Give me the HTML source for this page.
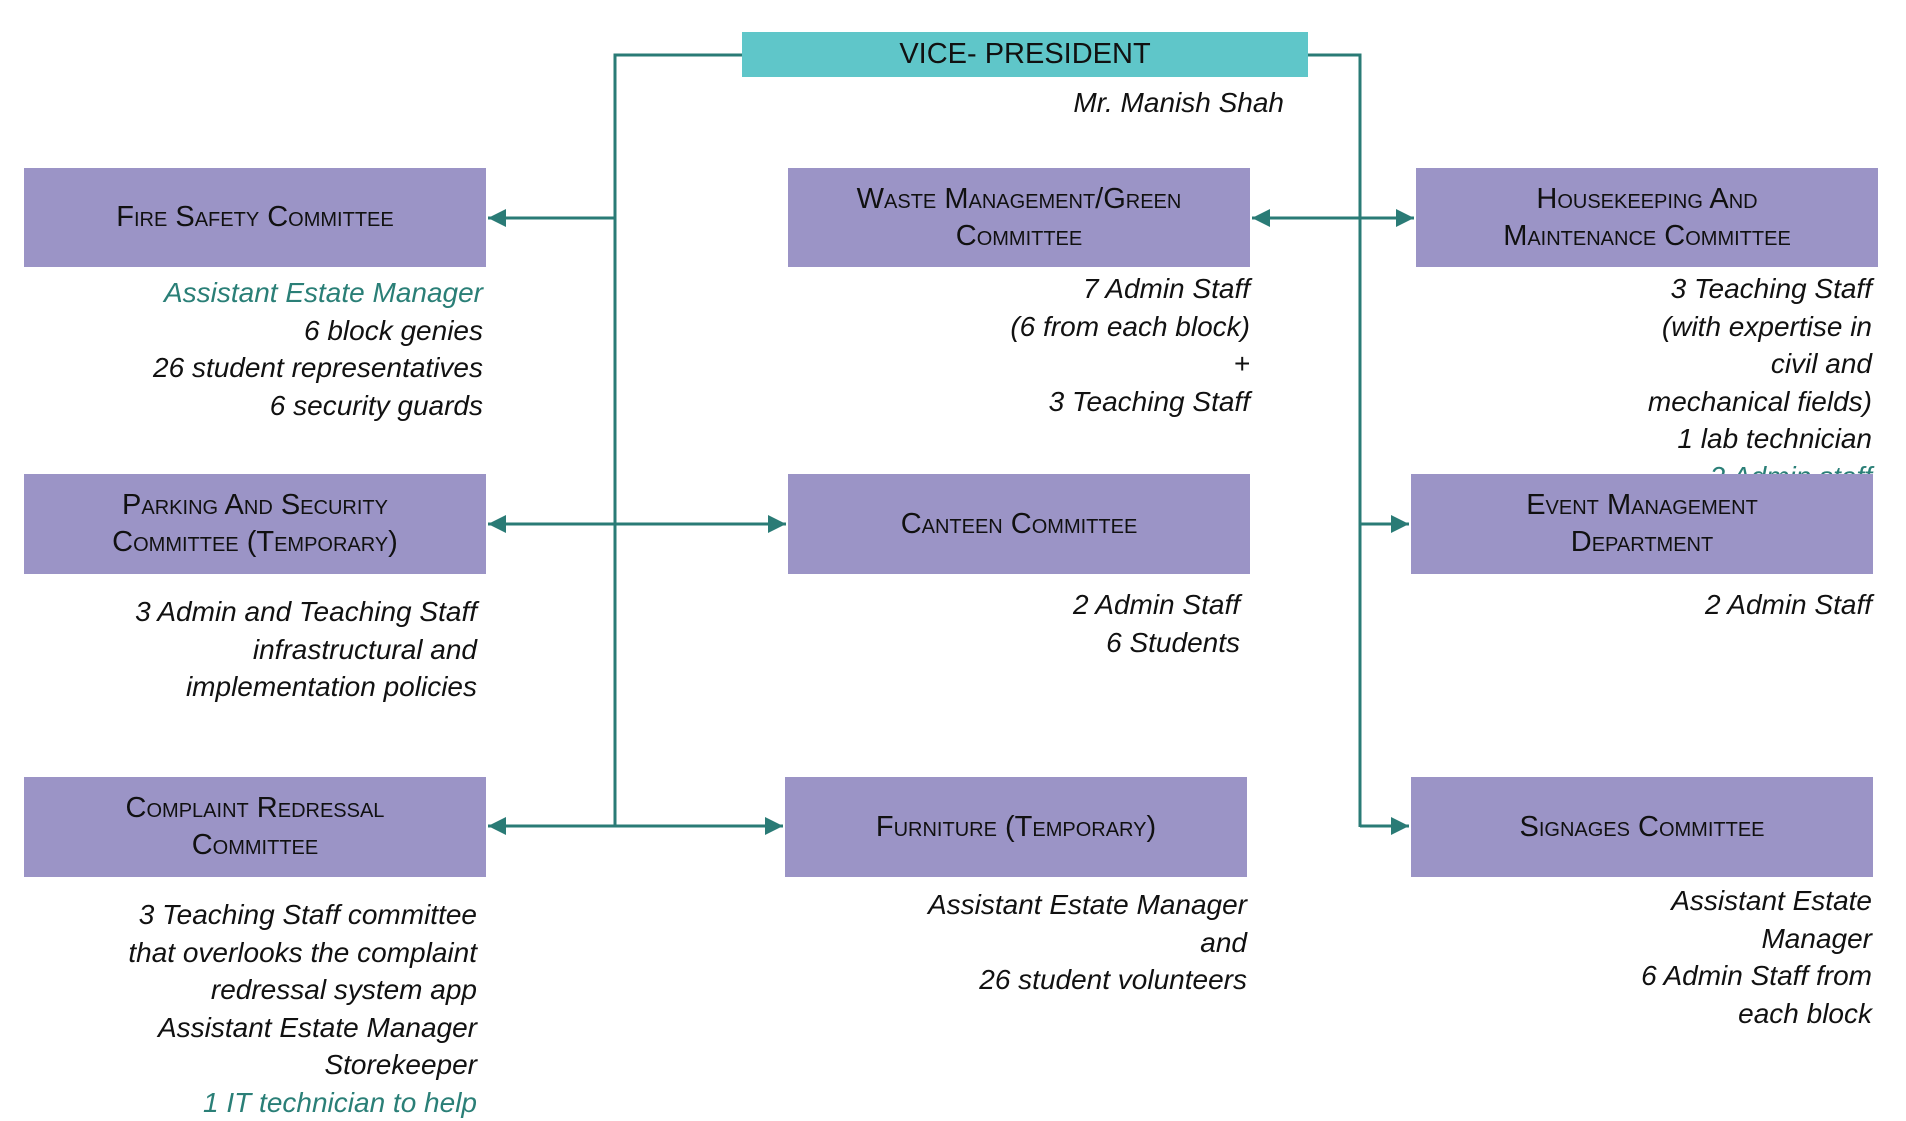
<!DOCTYPE html>
<html><head><meta charset="utf-8"><style>
body{margin:0;width:1906px;height:1118px;background:#fff;position:relative;overflow:hidden;font-family:"Liberation Sans",sans-serif}
.box{position:absolute;background:#9b94c6;color:#111;display:flex;align-items:center;justify-content:center;text-align:center;font-variant:small-caps;font-size:29px;line-height:37px;z-index:2}
.d{position:absolute;text-align:right;font-style:italic;font-size:28px;line-height:37.5px;color:#111;white-space:nowrap;z-index:1}
.t{color:#2a7f77}
svg{position:absolute;left:0;top:0;z-index:3}
</style></head><body>
<div class="box" style="left:742px;top:32px;width:566px;height:45px;background:#5fc6c9;font-variant:normal;font-size:29px">VICE- PRESIDENT</div>
<div class="d" style="left:900px;top:84px;width:384px">Mr. Manish Shah</div>

<div class="box" style="left:24px;top:168px;width:462px;height:99px">Fire Safety Committee</div>
<div class="box" style="left:788px;top:168px;width:462px;height:99px">Waste Management/Green<br>Committee</div>
<div class="box" style="left:1416px;top:168px;width:462px;height:99px">Housekeeping And<br>Maintenance Committee</div>
<div class="box" style="left:24px;top:474px;width:462px;height:100px">Parking And Security<br>Committee (Temporary)</div>
<div class="box" style="left:788px;top:474px;width:462px;height:100px">Canteen Committee</div>
<div class="box" style="left:1411px;top:474px;width:462px;height:100px">Event Management<br>Department</div>
<div class="box" style="left:24px;top:777px;width:462px;height:100px">Complaint Redressal<br>Committee</div>
<div class="box" style="left:785px;top:777px;width:462px;height:100px">Furniture (Temporary)</div>
<div class="box" style="left:1411px;top:777px;width:462px;height:100px">Signages Committee</div>

<div class="d" style="left:0;top:274px;width:483px"><span class="t">Assistant Estate Manager</span><br>6 block genies<br>26 student representatives<br>6 security guards</div>
<div class="d" style="left:700px;top:270px;width:550px">7 Admin Staff<br>(6 from each block)<br>+<br>3 Teaching Staff</div>
<div class="d" style="left:1400px;top:270px;width:472px">3 Teaching Staff<br>(with expertise in<br>civil and<br>mechanical fields)<br>1 lab technician<br><span class="t">2 Admin staff</span></div>
<div class="d" style="left:0;top:593px;width:477px">3 Admin and Teaching Staff<br>infrastructural and<br>implementation policies</div>
<div class="d" style="left:700px;top:586px;width:540px">2 Admin Staff<br>6 Students</div>
<div class="d" style="left:1400px;top:586px;width:472px">2 Admin Staff</div>
<div class="d" style="left:0;top:896px;width:477px">3 Teaching Staff committee<br>that overlooks the complaint<br>redressal system app<br>Assistant Estate Manager<br>Storekeeper<br><span class="t">1 IT technician to help</span></div>
<div class="d" style="left:700px;top:886px;width:547px">Assistant Estate Manager<br>and<br>26 student volunteers</div>
<div class="d" style="left:1400px;top:882px;width:472px">Assistant Estate<br>Manager<br>6 Admin Staff from<br>each block</div>

<svg width="1906" height="1118">
<defs><marker id="a" viewBox="0 0 10 10" refX="10" refY="5" markerWidth="6" markerHeight="6" orient="auto-start-reverse" markerUnits="strokeWidth"><path d="M0,0L10,5L0,10z" fill="#2a7b76"/></marker></defs>
<g stroke="#2a7b76" stroke-width="3" fill="none">
<path d="M742,55H615V827"/>
<path d="M1308,55H1360V827"/>
<path d="M615,218H488" marker-end="url(#a)"/>
<path d="M1252,218H1414" marker-start="url(#a)" marker-end="url(#a)"/>
<path d="M488,524H786" marker-start="url(#a)" marker-end="url(#a)"/>
<path d="M1360,524H1409" marker-end="url(#a)"/>
<path d="M488,826H783" marker-start="url(#a)" marker-end="url(#a)"/>
<path d="M1360,826H1409" marker-end="url(#a)"/>
</g></svg>
</body></html>
